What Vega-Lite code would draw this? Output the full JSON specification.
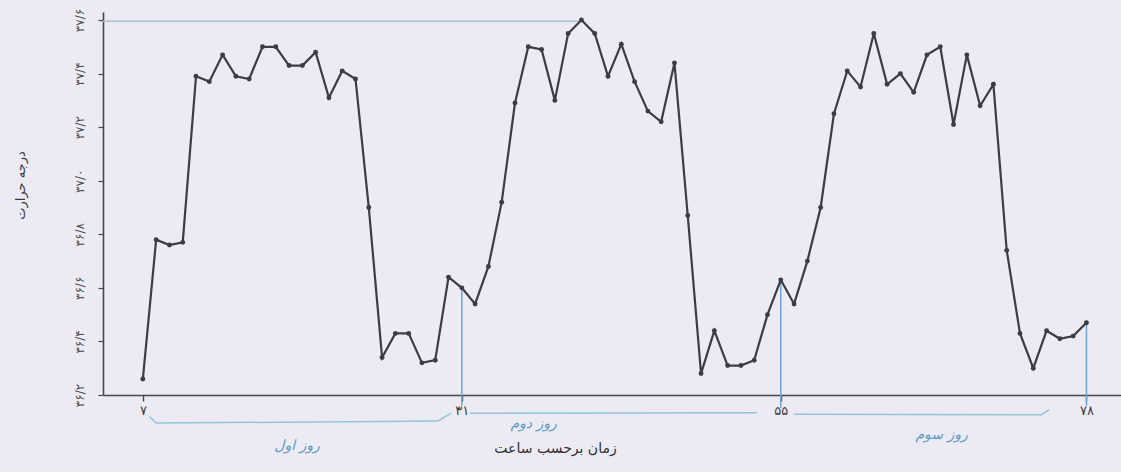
{
  "$schema": "https://vega.github.io/schema/vega-lite/v6.json",
  "width": 1018,
  "height": 383,
  "autosize": {"type": "none"},
  "padding": {"left": 103, "top": 12, "right": 0, "bottom": 77},
  "background": "#ecebf3",
  "config": {"view": {"stroke": null}, "font": "DejaVu Sans"},
  "datasets": {
    "temp": [
      {"hour": 7, "t": 36.26}, {"hour": 8, "t": 36.78}, {"hour": 9, "t": 36.76}, {"hour": 10, "t": 36.77},
      {"hour": 11, "t": 37.39}, {"hour": 12, "t": 37.37}, {"hour": 13, "t": 37.47}, {"hour": 14, "t": 37.39},
      {"hour": 15, "t": 37.38}, {"hour": 16, "t": 37.50}, {"hour": 17, "t": 37.50}, {"hour": 18, "t": 37.43},
      {"hour": 19, "t": 37.43}, {"hour": 20, "t": 37.48}, {"hour": 21, "t": 37.31}, {"hour": 22, "t": 37.41},
      {"hour": 23, "t": 37.38}, {"hour": 24, "t": 36.90}, {"hour": 25, "t": 36.34}, {"hour": 26, "t": 36.43},
      {"hour": 27, "t": 36.43}, {"hour": 28, "t": 36.32}, {"hour": 29, "t": 36.33}, {"hour": 30, "t": 36.64},
      {"hour": 31, "t": 36.60}, {"hour": 32, "t": 36.54}, {"hour": 33, "t": 36.68}, {"hour": 34, "t": 36.92},
      {"hour": 35, "t": 37.29}, {"hour": 36, "t": 37.50}, {"hour": 37, "t": 37.49}, {"hour": 38, "t": 37.30},
      {"hour": 39, "t": 37.55}, {"hour": 40, "t": 37.60}, {"hour": 41, "t": 37.55}, {"hour": 42, "t": 37.39},
      {"hour": 43, "t": 37.51}, {"hour": 44, "t": 37.37}, {"hour": 45, "t": 37.26}, {"hour": 46, "t": 37.22},
      {"hour": 47, "t": 37.44}, {"hour": 48, "t": 36.87}, {"hour": 49, "t": 36.28}, {"hour": 50, "t": 36.44},
      {"hour": 51, "t": 36.31}, {"hour": 52, "t": 36.31}, {"hour": 53, "t": 36.33}, {"hour": 54, "t": 36.50},
      {"hour": 55, "t": 36.63}, {"hour": 56, "t": 36.54}, {"hour": 57, "t": 36.70}, {"hour": 58, "t": 36.90},
      {"hour": 59, "t": 37.25}, {"hour": 60, "t": 37.41}, {"hour": 61, "t": 37.35}, {"hour": 62, "t": 37.55},
      {"hour": 63, "t": 37.36}, {"hour": 64, "t": 37.40}, {"hour": 65, "t": 37.33}, {"hour": 66, "t": 37.47},
      {"hour": 67, "t": 37.50}, {"hour": 68, "t": 37.21}, {"hour": 69, "t": 37.47}, {"hour": 70, "t": 37.28},
      {"hour": 71, "t": 37.36}, {"hour": 72, "t": 36.74}, {"hour": 73, "t": 36.43}, {"hour": 74, "t": 36.30},
      {"hour": 75, "t": 36.44}, {"hour": 76, "t": 36.41}, {"hour": 77, "t": 36.42}, {"hour": 78, "t": 36.47}
    ],
    "guides": [
      {"hour": 31, "hour2": 31, "t": 36.60, "t2": 36.16, "kind": "v"},
      {"hour": 55, "hour2": 55, "t": 36.63, "t2": 36.15, "kind": "v"},
      {"hour": 78, "hour2": 78, "t": 36.47, "t2": 36.16, "kind": "v"},
      {"hour": 4, "hour2": 40, "t": 37.595, "t2": 37.595, "kind": "h"}
    ],
    "brackets": [
      {"hour": 7.5, "hour2": 8.0, "t": 36.12, "t2": 36.095},
      {"hour": 8.0, "hour2": 29.2, "t": 36.095, "t2": 36.103},
      {"hour": 29.2, "hour2": 30.2, "t": 36.103, "t2": 36.132},
      {"hour": 31.6, "hour2": 53.2, "t": 36.132, "t2": 36.134},
      {"hour": 56.0, "hour2": 74.6, "t": 36.128, "t2": 36.126},
      {"hour": 74.6, "hour2": 75.2, "t": 36.126, "t2": 36.145}
    ],
    "notes": [
      {"hour": 18.6, "t": 36.01, "label": "روز اول"},
      {"hour": 36.4, "t": 36.09, "label": "روز دوم"},
      {"hour": 67.1, "t": 36.05, "label": "روز سوم"}
    ]
  },
  "encoding": {
    "x": {"field": "hour", "type": "quantitative",
      "scale": {"domain": [4, 80.6], "nice": false, "zero": false},
      "axis": {
        "title": "زمان برحسب ساعت",
        "values": [7, 31, 55, 78],
        "labelExpr": "datum.value == 7 ? '۷' : datum.value == 31 ? '۳۱' : datum.value == 55 ? '۵۵' : '۷۸'",
        "grid": false, "domainColor": "#45454c", "domainWidth": 1.6,
        "tickColor": "#45454c", "tickSize": 6, "tickWidth": 1.4,
        "labelFontSize": 13, "labelColor": "#3d3d44", "labelPadding": 3,
        "titleFontSize": 14, "titleFontWeight": "normal", "titleColor": "#2f2f35",
        "titleX": 452, "titleY": 57, "titleBaseline": "alphabetic"
      }},
    "y": {"field": "t", "type": "quantitative",
      "scale": {"domain": [36.2, 37.63], "nice": false, "zero": false},
      "axis": {
        "title": "درجه حرارت",
        "values": [36.2, 36.4, 36.6, 36.8, 37.0, 37.2, 37.4, 37.6],
        "labelExpr": "abs(datum.value-36.2)<0.01 ? '۳۶/۲' : abs(datum.value-36.4)<0.01 ? '۳۶/۴' : abs(datum.value-36.6)<0.01 ? '۳۶/۶' : abs(datum.value-36.8)<0.01 ? '۳۶/۸' : abs(datum.value-37.0)<0.01 ? '۳۷/۰' : abs(datum.value-37.2)<0.01 ? '۳۷/۲' : abs(datum.value-37.4)<0.01 ? '۳۷/۴' : '۳۷/۶'",
        "grid": false, "domainColor": "#45454c", "domainWidth": 1.6,
        "tickColor": "#45454c", "tickSize": 5, "tickWidth": 1.2,
        "labelAngle": -90, "labelAlign": "center", "labelBaseline": "bottom",
        "labelFontSize": 12, "labelColor": "#4a4a52", "labelPadding": 12,
        "titleFontSize": 13, "titleFontWeight": "normal", "titleColor": "#3a3a40",
        "titleX": -83, "titleY": 173, "titleAngle": -90, "titleAlign": "center", "titleBaseline": "middle"
      }}
  },
  "layer": [
    {
      "data": {"name": "guides"},
      "mark": {"type": "rule", "strokeWidth": 1.5},
      "encoding": {
        "x2": {"field": "hour2"},
        "y2": {"field": "t2"},
        "color": {"field": "kind", "type": "nominal", "legend": null,
          "scale": {"domain": ["v", "h"], "range": ["#6fa6cc", "#a9c0d2"]}}
      }
    },
    {
      "data": {"name": "brackets"},
      "mark": {"type": "rule", "strokeWidth": 1.5, "color": "#93c4d8"},
      "encoding": {
        "x2": {"field": "hour2"},
        "y2": {"field": "t2"}
      }
    },
    {
      "data": {"name": "notes"},
      "mark": {"type": "text", "fontSize": 14, "color": "#5b9ac4", "fontStyle": "italic", "align": "center", "baseline": "middle"},
      "encoding": {
        "text": {"field": "label"}
      }
    },
    {
      "data": {"name": "temp"},
      "mark": {"type": "line", "color": "#3c3c43", "strokeWidth": 2.2,
        "point": {"filled": true, "size": 24, "color": "#3c3c43"}},
      "encoding": {}
    }
  ]
}
